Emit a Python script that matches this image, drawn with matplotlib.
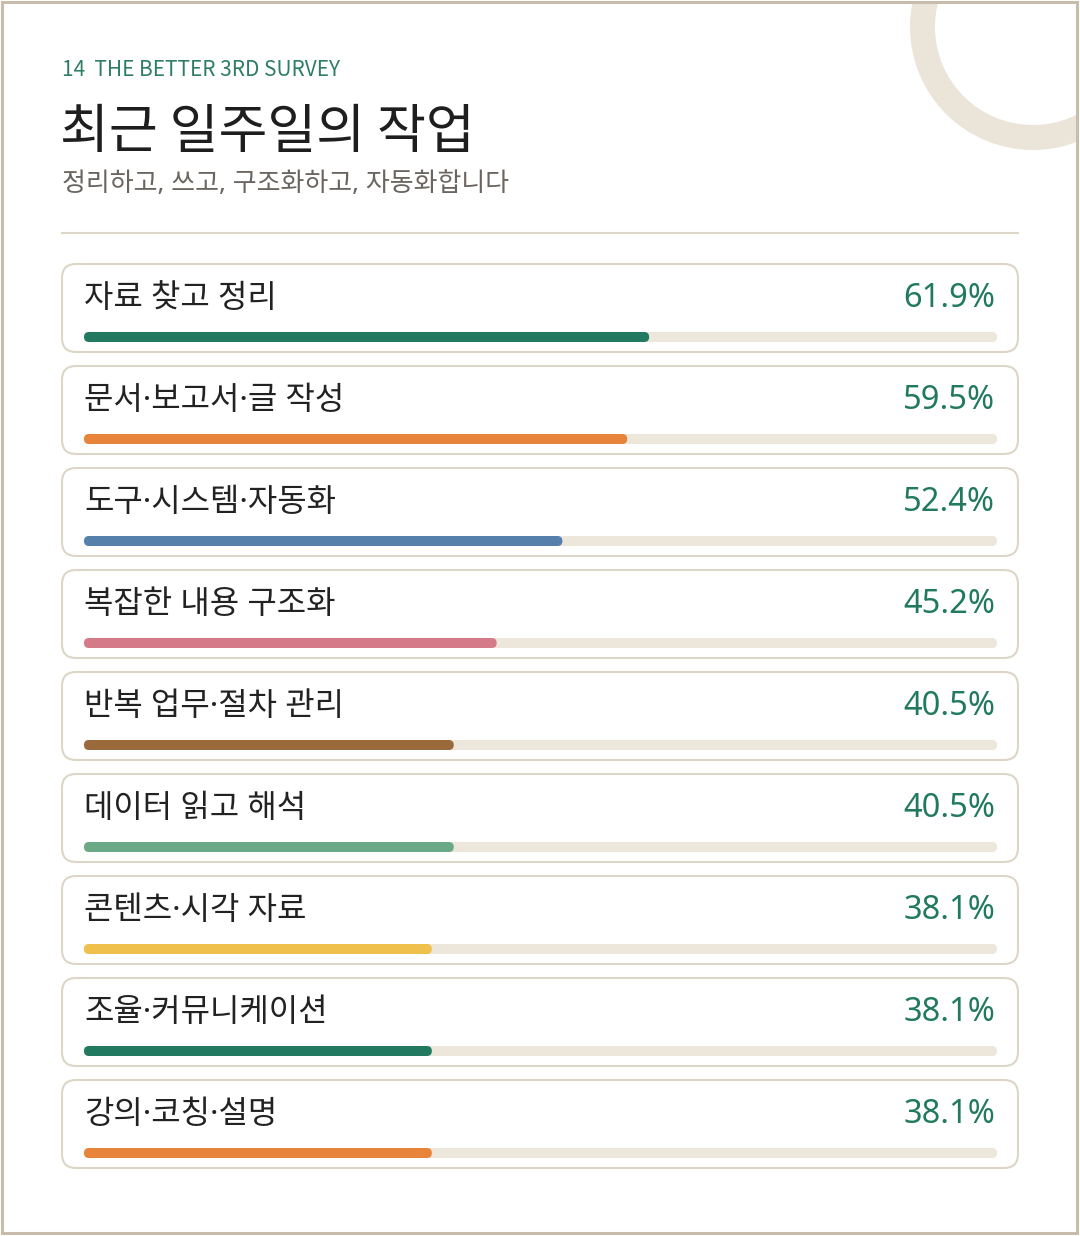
import matplotlib.pyplot as plt
from matplotlib.patches import FancyBboxPatch, Rectangle, Wedge

plt.rcParams['font.family'] = ['Noto Sans CJK KR', 'DejaVu Sans']
mixed = ['Noto Sans', 'Noto Sans CJK KR']

# data
categories = ["자료 찾고 정리", "문서·보고서·글 작성", "도구·시스템·자동화", "복잡한 내용 구조화",
              "반복 업무·절차 관리", "데이터 읽고 해석", "콘텐츠·시각 자료", "조율·커뮤니케이션",
              "강의·코칭·설명"]
values = [61.9, 59.5, 52.4, 45.2, 40.5, 40.5, 38.1, 38.1, 38.1]
bar_colors = ["#217a60", "#e8833a", "#5580ab", "#d57a88", "#9a6a3d",
              "#6aa985", "#f0c04c", "#217a60", "#e8833a"]

header = "14  THE BETTER 3RD SURVEY"
title = "최근 일주일의 작업"
subtitle = "정리하고, 쓰고, 구조화하고, 자동화합니다"

W, H = 1080, 1236
fig = plt.figure(figsize=(W / 100, H / 100), dpi=100)
ax = fig.add_axes([0, 0, 1, 1])
ax.set_xlim(0, W)
ax.set_ylim(H, 0)
ax.axis("off")

# outer frame + decorative ring
frame = Rectangle((2, 2), 1075, 1231, fill=False, ec="#c8bdac", lw=2.2, zorder=5)
ax.add_patch(frame)
clip = Rectangle((2, 2), 1075, 1231, transform=ax.transData)
ring = Wedge((1033, 27), 123, 0, 360, width=25, fc="#ebe4d8", ec="none", zorder=1)
ax.add_patch(ring)
ring.set_clip_path(clip)

# header
ax.text(62, 70, header, color="#2e7d64", fontsize=15, va="center", ha="left")
ax.text(60, 133, title, color="#1e1e1e", fontsize=38.3, va="center", ha="left")
ax.text(62, 184, subtitle, color="#6b6560", fontsize=18.7, va="center", ha="left",
        family=mixed)
ax.plot([62, 1018], [233, 233], color="#ddd5c8", lw=1.5)

# bar axes: x in percent across the track
bx = fig.add_axes([84 / W, 0, 913 / W, 1])
bx.set_xlim(0, 100)
bx.set_ylim(H, 0)
bx.axis("off")
aspect = 913 / 100
rad = 5 / aspect

top0, step = 264, 102
for i, (cat, val, col) in enumerate(zip(categories, values, bar_colors)):
    top = top0 + i * step
    card = FancyBboxPatch((62, top), 956, 88, boxstyle="round,pad=0,rounding_size=14",
                          fc="white", ec="#ddd6c7", lw=1.5, zorder=2)
    ax.add_patch(card)
    ax.text(84, top + 35, cat, color="#222222", fontsize=23, va="center", ha="left",
            family=mixed, zorder=3)
    ax.text(995, top + 34.5, f"{val:.1f}%", color="#217a60", fontsize=23.5, va="center",
            ha="right", family="Noto Sans", zorder=3)
    track = FancyBboxPatch((0, top + 68), 100, 10,
                           boxstyle=f"round,pad=0,rounding_size={rad}",
                           mutation_aspect=aspect, fc="#ede6da", ec="none", zorder=3)
    bx.add_patch(track)
    bar = FancyBboxPatch((0, top + 68), val, 10,
                         boxstyle=f"round,pad=0,rounding_size={rad}",
                         mutation_aspect=aspect, fc=col, ec="none", zorder=4)
    bx.add_patch(bar)

fig.savefig("out.png", dpi=100, facecolor="white")
